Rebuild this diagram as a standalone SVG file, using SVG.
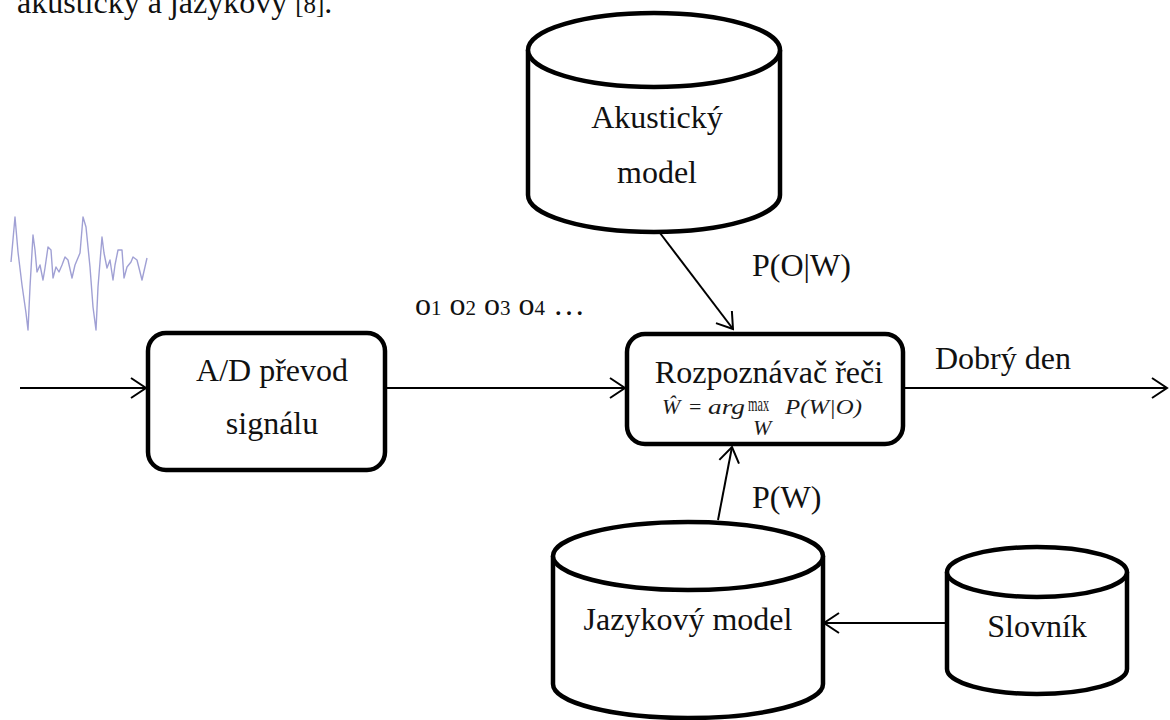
<svg xmlns="http://www.w3.org/2000/svg" width="1170" height="720" viewBox="0 0 1170 720">
  <style>
    .lbl { font-family: "Liberation Serif", "Times New Roman", serif; font-size: 32px; fill: #111; }
    .mid { text-anchor: middle; }
    .math { font-family: "Liberation Serif", "Times New Roman", serif; font-size: 22px; fill: #1a1a1a; }
    .it { font-style: italic; }
    .box { fill: #fff; stroke: #000; stroke-width: 4.5; }
    .cyl { fill: #fff; stroke: #000; stroke-width: 4.5; stroke-linejoin: round; }
    .edge { fill: none; stroke: #000; stroke-width: 2; marker-end: url(#arrow); }
    .wave { fill: none; stroke: #8f8fcc; stroke-width: 1.4; stroke-linejoin: round; opacity: 0.85; }
  </style>
  <defs>
    <marker id="arrow" markerUnits="userSpaceOnUse" markerWidth="20" markerHeight="24" viewBox="-18 -12 20 24" refX="0" refY="0" orient="auto">
      <path d="M -15 -10 L 0 0 L -15 10" fill="none" stroke="#000" stroke-width="2"/>
    </marker>
    <filter id="soft" x="-5%" y="-5%" width="110%" height="110%">
      <feGaussianBlur stdDeviation="0.5"/>
    </filter>
  </defs>

  <rect width="1170" height="720" fill="#fff"/>

  <!-- running text above the figure -->
  <text class="lbl" x="17" y="13">akustický a jazykový <tspan font-size="25">[8]</tspan>.</text>

  <!-- input speech waveform -->
  <g id="waveform" filter="url(#soft)">
    <polyline class="wave" points="11,262 15,217 18,252 22,285 26,313 28,330 30,287 33,235 35,250 37,272 40,265 43,280 45,268 48,247 51,250 53,278 56,267 59,272 62,265 65,257 68,260 72,278 75,265 80,253 83,217 86,227 90,267 93,307 96,330 98,287 102,237 104,253 107,268 110,260 113,280 115,265 118,250 122,250 124,278 127,267 131,262 133,257 137,260 142,280 147,258"/>
  </g>

  <!-- connectors -->
  <g id="connectors">
    <line class="edge" x1="20" y1="388" x2="146" y2="388"/>
    <line class="edge" x1="385" y1="388" x2="625" y2="388"/>
    <line class="edge" x1="903" y1="388" x2="1167" y2="388"/>
    <line class="edge" x1="660" y1="233" x2="733" y2="329"/>
    <line class="edge" x1="718" y1="520" x2="732" y2="447"/>
    <line class="edge" x1="946" y1="623" x2="824" y2="623"/>
  </g>

  <!-- edge labels -->
  <g id="edge-labels">
    <text class="lbl" x="415" y="315" font-size="31">o<tspan font-size="21">1</tspan> o<tspan font-size="21">2</tspan> o<tspan font-size="21">3</tspan> o<tspan font-size="21">4</tspan> …</text>
    <text class="lbl" x="752" y="276">P(O|W)</text>
    <text class="lbl" x="935" y="369">Dobrý den</text>
    <text class="lbl" x="752" y="508">P(W)</text>
  </g>

  <!-- A/D conversion -->
  <g id="ad-prevod">
    <rect class="box" x="148" y="333" width="237" height="137" rx="18"/>
    <text class="lbl mid" x="272" y="381">A/D převod</text>
    <text class="lbl mid" x="272" y="434">signálu</text>
  </g>

  <!-- recogniser -->
  <g id="rozpoznavac">
    <rect class="box" x="627" y="334" width="276" height="110" rx="18"/>
    <text class="lbl mid" x="769" y="383">Rozpoznávač řeči</text>
    <text class="math it" x="662" y="414">Ŵ</text>
    <text class="math" x="689" y="414">=</text>
    <text class="math it" x="708" y="414" textLength="37" lengthAdjust="spacingAndGlyphs">arg</text>
    <text class="math" x="748" y="411" font-size="17" textLength="21" lengthAdjust="spacingAndGlyphs">max</text>
    <text class="math it" x="753" y="435" font-size="14">W</text>
    <text class="math it" x="785" y="414" textLength="77" lengthAdjust="spacingAndGlyphs">P(W|O)</text>
  </g>

  <!-- acoustic model -->
  <g id="akusticky-model">
    <path class="cyl" d="M 528 50 L 528 195 A 126 37 0 0 0 780 195 L 780 50"/>
    <ellipse class="cyl" cx="654" cy="50" rx="126" ry="37"/>
    <text class="lbl mid" x="657" y="128">Akustický</text>
    <text class="lbl mid" x="657" y="183">model</text>
  </g>

  <!-- language model -->
  <g id="jazykovy-model">
    <path class="cyl" d="M 553 556 L 553 684 A 135 34 0 0 0 823 684 L 823 556"/>
    <ellipse class="cyl" cx="688" cy="556" rx="135" ry="34"/>
    <text class="lbl mid" x="688" y="630">Jazykový model</text>
  </g>

  <!-- lexicon -->
  <g id="slovnik">
    <path class="cyl" d="M 947 572 L 947 669 A 90 25 0 0 0 1127 669 L 1127 572"/>
    <ellipse class="cyl" cx="1037" cy="572" rx="90" ry="25"/>
    <text class="lbl mid" x="1037" y="637">Slovník</text>
  </g>
</svg>
